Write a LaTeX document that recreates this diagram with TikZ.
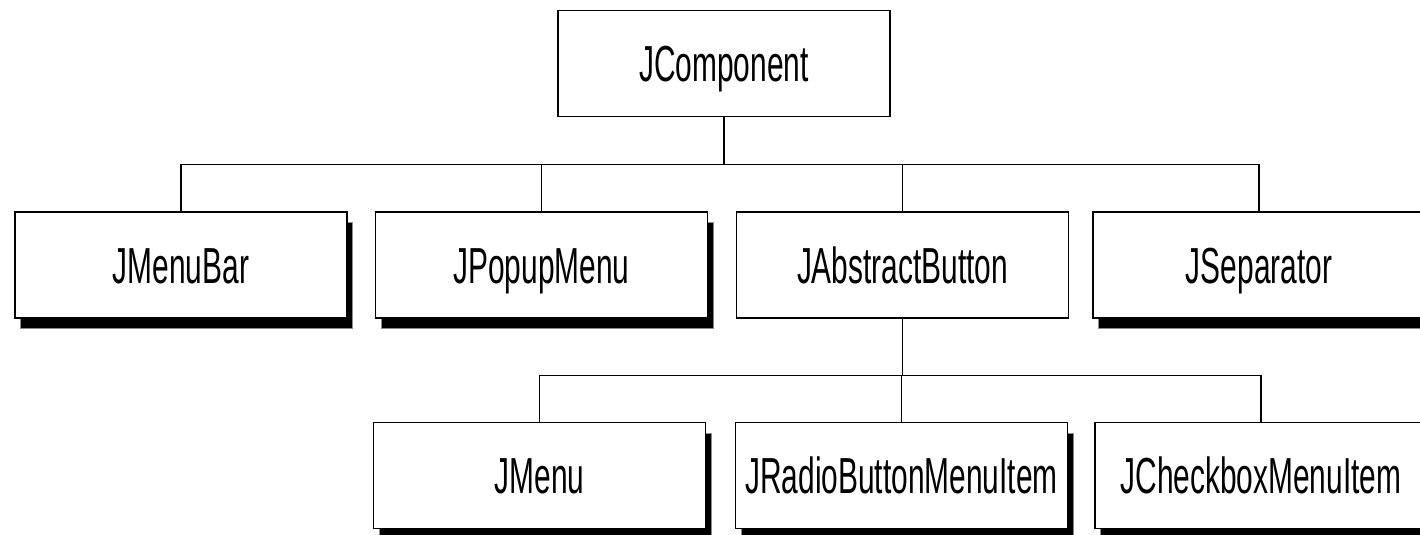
\documentclass[tikz,border=0pt]{standalone}
\usepackage{fontspec}
\newfontfamily\narrowfont[FakeStretch=0.59]{Liberation Sans}
\usetikzlibrary{shadows}

\tikzset{every picture/.style={line width=0.9pt}}
\tikzset{
  classbox/.style={draw, line width=1pt, fill=white, inner sep=0pt,
    minimum width=249pt, minimum height=79.5pt, text height=27.5pt, text depth=0pt,
    font=\narrowfont\fontsize{38}{45}\selectfont},
  shadowbox/.style={classbox, drop shadow={shadow xshift=4.1pt, shadow yshift=-7.9pt,
    opacity=1, fill=black, draw=black!45, line width=0.5pt}}
}

\begin{document}
\begin{tikzpicture}[x=0.75pt,y=0.75pt,yscale=-1,xscale=1]
%set diagram start at 0, width 1420, height 535
\clip (0,0) rectangle (1420,535);

% Text Node
\node [classbox] (jcomponent) at (724,63.5) {JComponent};
% Text Node
\node [shadowbox] (jmenubar) at (181,265) {JMenuBar};
% Text Node
\node [shadowbox] (jpopupmenu) at (541.5,265) {JPopupMenu};
% Text Node
\node [classbox] (jabstractbutton) at (902.5,265) {JAbstractButton};
% Text Node
\node [shadowbox] (jseparator) at (1259,265) {JSeparator};
% Text Node
\node [shadowbox] (jmenu) at (539.5,475.5) {JMenu};
% Text Node
\node [shadowbox] (jradio) at (901.5,475.5) {JRadioButtonMenuItem};
% Text Node
\node [shadowbox] (jcheckbox) at (1261,475.5) {JCheckboxMenuItem};

%Straight Lines
\draw (jcomponent.south) -- ++(0,47) -| (jmenubar.north);
\draw (jcomponent.south) -- ++(0,47) -| (jpopupmenu.north);
\draw (jcomponent.south) -- ++(0,47) -| (jabstractbutton.north);
\draw (jcomponent.south) -- ++(0,47) -| (jseparator.north);
%Straight Lines
\draw (jabstractbutton.south) -- ++(0,57) -| (jmenu.north);
\draw (jabstractbutton.south) -- ++(0,57) -| (jradio.north);
\draw (jabstractbutton.south) -- ++(0,57) -| (jcheckbox.north);

\end{tikzpicture}
\end{document}
